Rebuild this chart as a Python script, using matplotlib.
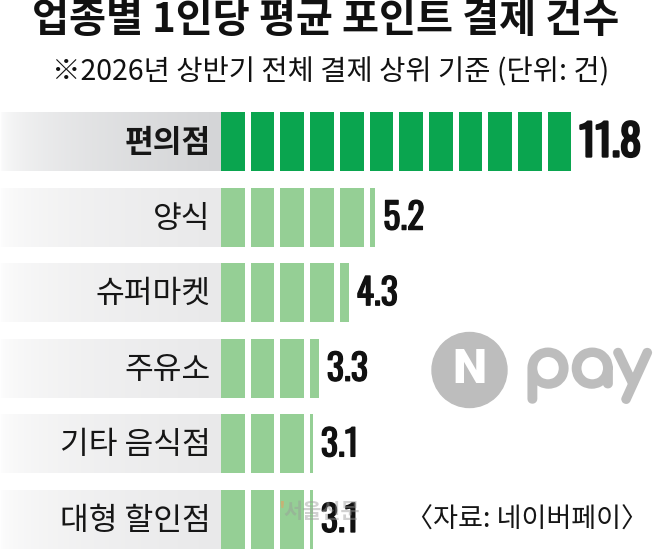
import matplotlib.pyplot as plt
import matplotlib.patches as mpatches
import matplotlib.patheffects as pe
import numpy as np

# data
categories = ['편의점', '양식', '슈퍼마켓', '주유소', '기타 음식점', '대형 할인점']
values = [11.8, 5.2, 4.3, 3.3, 3.1, 3.1]
value_labels = ['11.8', '5.2', '4.3', '3.3', '3.1', '3.1']

title = '업종별 1인당 평균 포인트 결제 건수'
subtitle = '※2026년 상반기 전체 결제 상위 기준 (단위: 건)'
source = '〈자료: 네이버페이〉'

KR = ['Noto Sans CJK KR', 'DejaVu Sans']
NUM = ['Oswald', 'Roboto Condensed', 'DejaVu Sans']

W, H = 653, 549
fig = plt.figure(figsize=(W / 100, H / 100), dpi=100)

# main axes: 1 unit = 29.7 px, bars start at x=221 px
bar_x0 = 221
unit = 29.7
pitch = 75.6
center0 = 141.5
top_px = center0 - pitch / 2
ax = fig.add_axes([0, 0, 1, (H - top_px) / H])
ax.axis('off')
xmin, xmax = -bar_x0 / unit, (W - bar_x0) / unit
ymax = (H - center0) / pitch

bar_h = 0.78
gap = 0.2
dark = '#0aa54f'
light = '#95cf95'

for i, (cat, v, lab) in enumerate(zip(categories, values, value_labels)):
    top = i == 0
    # gray gradient band behind label
    end_col = np.array([212, 213, 215]) / 255 if top else np.array([233, 233, 234]) / 255
    t = np.linspace(0, 1, 256) ** 0.45
    grad = (1 - t)[:, None] * np.ones(3) + t[:, None] * end_col
    ax.imshow(grad[None, :, :], extent=(xmin, 0, i + bar_h / 2, i - bar_h / 2),
              aspect='auto', zorder=0, interpolation='bilinear')
    # segmented bar
    k = 0
    while k < v:
        w = min(1 - gap, v - k)
        ax.barh(i, w, left=k, height=bar_h, color=dark if top else light,
                edgecolor='none', zorder=2)
        k += 1
    ax.text(-0.35, i + 0.02, cat, ha='right', va='center', family=KR,
            fontsize=22.5, fontweight='bold' if top else 'normal', color='#161616')
    ax.text(v + 0.26, i + 0.02, lab, ha='left', va='center', family=NUM,
            fontsize=31 if top else 26, fontweight='bold', color='#111111',
            path_effects=[pe.withStroke(linewidth=1.7 if top else 0.9, foreground='#111111')])

ax.set_xlim(xmin, xmax)
ax.set_ylim(ymax, -0.5)

# overlay in pixel coordinates for titles and logo
ov = fig.add_axes([0, 0, 1, 1], zorder=5)
ov.set_xlim(0, W)
ov.set_ylim(H, 0)
ov.axis('off')
ov.patch.set_alpha(0)

ov.text(326, 21, title, ha='center', va='center', family=KR, fontsize=29,
        fontweight='bold', color='#111111')
ov.text(331, 71, subtitle, ha='center', va='center', family=KR, fontsize=20.5,
        color='#111111')

# Npay logo
ov.add_patch(mpatches.Circle((469.5, 370), 37.5, color='#bdbdbd', zorder=1))
ov.text(469, 370, 'N', ha='center', va='center', family=['Roboto', 'DejaVu Sans'],
        fontsize=35, fontweight='black', color='white', zorder=2)
ov.text(524, 368, 'pay', ha='left', va='center', family=['Comfortaa', 'Poppins', 'Lato'],
        fontsize=47, fontweight='bold', color='#bdbdbd',
        path_effects=[pe.withStroke(linewidth=3.5, foreground='#bdbdbd')])

ov.text(648, 520, source, ha='right', va='center', family=KR, fontsize=19.5,
        color='#161616')

# watermark
ov.text(278, 512, "'", ha='left', va='center', family=KR, fontsize=15,
        color='#e8a060', alpha=0.6, fontweight='bold')
ov.text(283, 512, '서울신문', ha='left', va='center', family=KR, fontsize=15,
        color='#9a9a9a', alpha=0.45, fontweight='bold')

fig.savefig('out.png', dpi=100)
